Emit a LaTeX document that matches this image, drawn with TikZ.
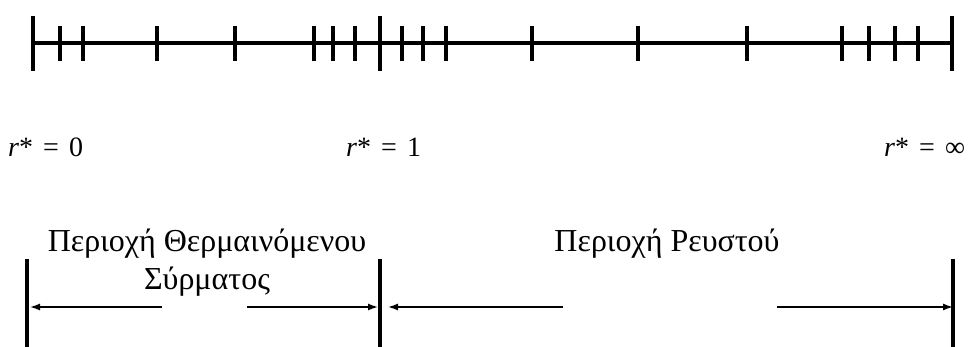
\documentclass[tikz,border=0pt]{standalone}
\usepackage{fontspec}
\setmainfont{Liberation Serif}
\usepackage{tikz}
\usetikzlibrary{arrows.meta, positioning}

\begin{document}
\begin{tikzpicture}[
    x=1pt, y=-1pt,
    axis/.style={line width=4pt},
    tick/.style={line width=3.5pt},
    bar/.style={line width=4pt},
    dim/.style={-{Latex[length=10pt,width=7pt]}, line width=1.4pt},
    rlbl/.style={font=\fontsize{28}{32}\selectfont, anchor=base west, inner sep=0pt},
    region/.style={font=\fontsize{32}{38}\selectfont, align=center, inner sep=0pt},
  ]
  \useasboundingbox (0,0) rectangle (976,347);

  % grid line along r*
  \coordinate (a0) at (33,43);
  \coordinate (a1) at (380,43);
  \coordinate (ainf) at (952,43);
  \draw[axis] (a0) -- (ainf);
  \foreach \p in {a0, a1, ainf}
    \draw[tick] ([yshift=-28pt]\p) -- ([yshift=27pt]\p);
  \foreach \x in {60,83,157,235,314,333,355,402,423,446,532,638,747,842,869,895,918}
    \draw[tick] (\x,26) -- (\x,61);

  % labels
  \node[rlbl] (r0) at (8,157) {\textit{r}*\hspace{0.36em}=\hspace{0.36em}0};
  \node[rlbl] (r1) at (346,157) {\textit{r}*\hspace{0.36em}=\hspace{0.36em}1};
  \node[rlbl] (rinf) at (884,157) {\textit{r}*\hspace{0.36em}=\hspace{0.36em}∞};

  % regions
  \coordinate (b0) at (27,259);
  \coordinate (b1) at (380,259);
  \coordinate (binf) at (953,259);
  \foreach \p in {b0, b1, binf}
    \draw[bar] (\p) -- ([yshift=-90pt]\p);

  \coordinate (w0) at (162,307);
  \coordinate (w1) at (247,307);
  \coordinate (f0) at (563,307);
  \coordinate (f1) at (777,307);
  \draw[dim] (w0) -- ([xshift=3pt]b0 |- w0);
  \draw[dim] (w1) -- ([xshift=-2pt]b1 |- w1);
  \draw[dim] (f0) -- ([xshift=8pt]b1 |- f0);
  \draw[dim] (f1) -- (binf |- f1);

  \node[region, anchor=north] (wire) at (207,229) {Περιοχή Θερμαινόμενου\\Σύρματος};
  \node[region, anchor=north] (fluid) at (667,229) {Περιοχή Ρευστού};
\end{tikzpicture}
\end{document}
